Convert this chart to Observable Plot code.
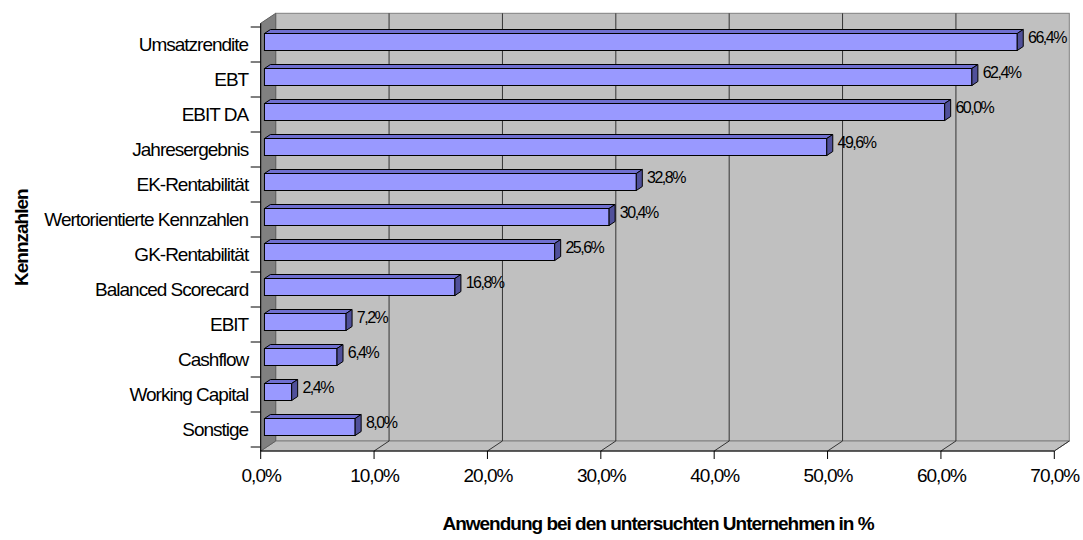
<!DOCTYPE html>
<html><head><meta charset="utf-8">
<script src="https://cdn.jsdelivr.net/npm/d3@7"></script>
<script src="https://cdn.jsdelivr.net/npm/@observablehq/plot@0.6"></script>
<style>
html,body{margin:0;padding:0;background:#fff;}
svg text{letter-spacing:-1px;}
g[font-size="16"] text{letter-spacing:-1.5px;}
</style></head><body><div id="chart"></div>
<script>
const categories = ["Umsatzrendite","EBT","EBIT DA","Jahresergebnis","EK-Rentabilität","Wertorientierte Kennzahlen","GK-Rentabilität","Balanced Scorecard","EBIT","Cashflow","Working Capital","Sonstige"];
const values = [66.4,62.4,60.0,49.6,32.8,30.4,25.6,16.8,7.2,6.4,2.4,8.0];
const xTicks = [0,10,20,30,40,50,60,70];
const xTitle = "Anwendung bei den untersuchten Unternehmen in %";
const yTitle = "Kennzahlen";

const data = categories.map((c,i)=>({cat:c, value: values[i]}));
const fmt = v => v.toFixed(1).replace(".", ",") + "%";

const WALL = [15,-10];
const FRONT = 0.25, BACK = 0.65;
const INSET = 9;
const fx = WALL[0]*FRONT, fy = WALL[1]*FRONT, bx = WALL[0]*BACK, by = WALL[1]*BACK;

function walls(I, scales, ch, dim) {
  const x = scales.x;
  const g = d3.create("svg:g");
  const x0 = x(xTicks[0]), x1 = x(xTicks[xTicks.length-1]);
  const top = dim.marginTop, bot = dim.height - dim.marginBottom;
  const [dx, dy] = WALL;
  g.append("rect").attr("x", x0+dx).attr("y", top+dy).attr("width", x1-x0).attr("height", bot-top)
    .attr("fill","#c0c0c0").attr("stroke","#808080");
  g.append("path").attr("d", `M${x0},${bot}L${x0+dx},${bot+dy}L${x1+dx},${bot+dy}L${x1},${bot}Z`)
    .attr("fill","#c0c0c0").attr("stroke","#808080");
  g.append("path").attr("d", `M${x0},${top}L${x0+dx},${top+dy}L${x0+dx},${bot+dy}L${x0},${bot}Z`)
    .attr("fill","#808080").attr("stroke","#606060");
  for (const t of xTicks.slice(1)) {
    const xt = x(t);
    if (t !== xTicks[xTicks.length-1]) {
      g.append("line").attr("x1", xt+dx).attr("x2", xt+dx).attr("y1", top+dy).attr("y2", bot+dy).attr("stroke","#333");
    }
    g.append("line").attr("x1", xt).attr("x2", xt+dx).attr("y1", bot).attr("y2", bot+dy).attr("stroke","#333");
  }
  return g.node();
}

function barSides(I, scales, ch, dim) {
  const x = scales.x, y = scales.y;
  const bw = y.bandwidth();
  const g = d3.create("svg:g").attr("stroke","#000").attr("stroke-linejoin","round");
  for (const d of data) {
    const yt = y(d.cat) + INSET, yb = y(d.cat) + bw - INSET;
    const xl = x(0), xr = x(d.value);
    g.append("path").attr("fill","#6f6fd0")
      .attr("d", `M${xl+fx},${yt+fy}L${xr+fx},${yt+fy}L${xr+bx},${yt+by}L${xl+bx},${yt+by}Z`);
    g.append("path").attr("fill","#50509a")
      .attr("d", `M${xr+fx},${yt+fy}L${xr+bx},${yt+by}L${xr+bx},${yb+by}L${xr+fx},${yb+fy}Z`);
  }
  return g.node();
}

function axes(I, scales, ch, dim) {
  const x = scales.x, y = scales.y;
  const g = d3.create("svg:g").attr("stroke","#000");
  const x0 = x(xTicks[0]), x1 = x(xTicks[xTicks.length-1]);
  const top = dim.marginTop, bot = dim.height - dim.marginBottom;
  g.append("line").attr("x1", x0).attr("x2", x1).attr("y1", bot).attr("y2", bot);
  g.append("line").attr("x1", x0).attr("x2", x0).attr("y1", top).attr("y2", bot);
  for (const t of xTicks) {
    g.append("line").attr("x1", x(t)).attr("x2", x(t)).attr("y1", bot).attr("y2", bot+8);
  }
  const bw = y.bandwidth();
  const bounds = categories.map(c => y(c)).concat([y(categories[categories.length-1]) + bw]);
  for (const yy of bounds) {
    g.append("line").attr("x1", x0-10).attr("x2", x0).attr("y1", yy).attr("y2", yy);
  }
  return g.node();
}

const chart = Plot.plot({
  width: 1083,
  height: 540,
  marginLeft: 260.7,
  marginRight: 28.7,
  marginTop: 23.3,
  marginBottom: 89,
  style: {fontFamily: "'Liberation Sans', Arial, sans-serif", fontSize: "19px", color: "#000", background: "#fff", overflow: "visible"},
  x: {domain: [0, 70], axis: null},
  y: {domain: categories, padding: 0, axis: null},
  marks: [
    walls,
    Plot.barX(data, {x: "value", y: "cat", dx: fx, dy: fy, insetTop: INSET, insetBottom: INSET, fill: "#9999ff", stroke: "#000"}),
    barSides,
    axes,
    Plot.text(data, {x: "value", y: "cat", text: d => fmt(d.value), textAnchor: "start", dx: 14, dy: -7, fontSize: 16, fill: "#000"}),
    Plot.text(categories, {y: d => d, text: d => d, frameAnchor: "left", textAnchor: "end", dx: -13, fontSize: 19, fill: "#000"}),
    Plot.text(xTicks, {x: d => d, text: d => fmt(d), frameAnchor: "bottom", dy: 30, fontSize: 19, fill: "#000"}),
    Plot.text([yTitle], {text: d => d, frameAnchor: "left", textAnchor: "middle", rotate: -90, dx: -239.7, fontSize: 19, fontWeight: "bold", fill: "#000"}),
    Plot.text([xTitle], {text: d => d, frameAnchor: "bottom", textAnchor: "middle", dy: 78, fontSize: 19, fontWeight: "bold", fill: "#000"})
  ]
});
document.getElementById("chart").appendChild(chart);
</script></body></html>
